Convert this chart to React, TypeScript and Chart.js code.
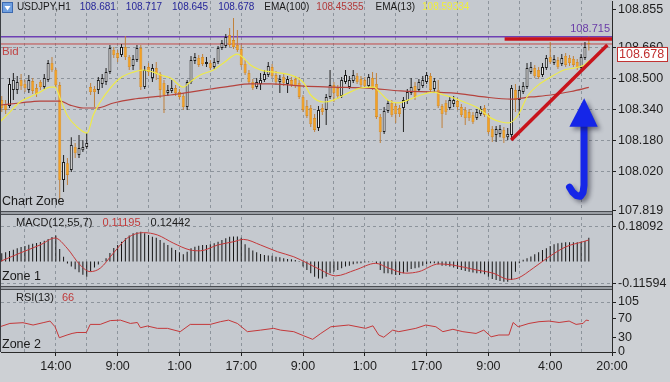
import { useEffect, useRef } from "react";
import { Chart, registerables } from "chart.js";

Chart.register(...registerables);

// ---------------- data (USDJPY H1) ----------------
const opens = [
  108.389, 108.369, 108.358, 108.441, 108.441, 108.492, 108.472, 108.441, 108.487, 108.451,
  108.482, 108.456, 108.492, 108.580, 108.544, 108.466, 107.977, 108.064, 108.028, 108.147,
  108.106, 108.131, 108.147, 108.456, 108.446, 108.441, 108.472, 108.482, 108.533, 108.647,
  108.631, 108.621, 108.662, 108.611, 108.564, 108.595, 108.657, 108.456, 108.559, 108.503,
  108.554, 108.523, 108.477, 108.425, 108.436, 108.451, 108.430, 108.410, 108.353, 108.482,
  108.590, 108.606, 108.611, 108.575, 108.580, 108.559, 108.585, 108.657, 108.668, 108.724,
  108.698, 108.673, 108.652, 108.575, 108.528, 108.482, 108.456, 108.472, 108.492, 108.518,
  108.559, 108.518, 108.482, 108.508, 108.472, 108.492, 108.497, 108.477, 108.405, 108.358,
  108.348, 108.296, 108.245, 108.348, 108.338, 108.405, 108.466, 108.451, 108.410, 108.482,
  108.456, 108.487, 108.513, 108.497, 108.492, 108.461, 108.503, 108.472, 108.302, 108.224,
  108.333, 108.374, 108.358, 108.348, 108.348, 108.384, 108.425, 108.461, 108.441, 108.461,
  108.482, 108.513, 108.446, 108.441, 108.358, 108.374, 108.348, 108.369, 108.384, 108.353,
  108.338, 108.327, 108.312, 108.296, 108.317, 108.348, 108.312, 108.240, 108.209, 108.214,
  108.235, 108.198, 108.209, 108.441, 108.389, 108.430, 108.456, 108.533, 108.554, 108.544,
  108.518, 108.554, 108.611, 108.580, 108.595, 108.575, 108.616, 108.606, 108.601, 108.585,
  108.554, 108.606, 108.681,
];
const highs = [
  108.410, 108.389, 108.503, 108.528, 108.513, 108.523, 108.492, 108.518, 108.503, 108.472,
  108.492, 108.523, 108.595, 108.611, 108.554, 108.482, 108.106, 108.090, 108.198, 108.168,
  108.209, 108.183, 108.219, 108.477, 108.461, 108.508, 108.523, 108.554, 108.673, 108.662,
  108.647, 108.678, 108.719, 108.621, 108.621, 108.673, 108.673, 108.564, 108.580, 108.575,
  108.585, 108.533, 108.492, 108.466, 108.492, 108.466, 108.446, 108.425, 108.492, 108.616,
  108.631, 108.621, 108.626, 108.611, 108.595, 108.606, 108.668, 108.698, 108.729, 108.760,
  108.812, 108.750, 108.673, 108.595, 108.544, 108.497, 108.503, 108.528, 108.544, 108.585,
  108.575, 108.539, 108.518, 108.523, 108.513, 108.508, 108.513, 108.508, 108.415, 108.389,
  108.363, 108.317, 108.358, 108.369, 108.420, 108.544, 108.482, 108.466, 108.508, 108.544,
  108.513, 108.544, 108.528, 108.513, 108.508, 108.523, 108.533, 108.528, 108.317, 108.353,
  108.389, 108.389, 108.374, 108.363, 108.405, 108.446, 108.503, 108.482, 108.497, 108.513,
  108.533, 108.528, 108.503, 108.492, 108.369, 108.389, 108.405, 108.410, 108.399, 108.369,
  108.353, 108.343, 108.327, 108.343, 108.358, 108.363, 108.322, 108.255, 108.255, 108.260,
  108.250, 108.245, 108.466, 108.472, 108.461, 108.482, 108.580, 108.585, 108.570, 108.559,
  108.580, 108.621, 108.688, 108.621, 108.611, 108.626, 108.631, 108.621, 108.616, 108.601,
  108.626, 108.688, 108.717,
];
const lows = [
  108.327, 108.317, 108.348, 108.389, 108.420, 108.441, 108.430, 108.425, 108.420, 108.405,
  108.441, 108.446, 108.482, 108.533, 108.451, 107.874, 107.915, 107.951, 108.018, 108.090,
  108.090, 108.121, 108.137, 108.415, 108.353, 108.420, 108.451, 108.466, 108.523, 108.606,
  108.585, 108.611, 108.595, 108.544, 108.544, 108.585, 108.441, 108.446, 108.513, 108.482,
  108.492, 108.399, 108.322, 108.410, 108.425, 108.410, 108.394, 108.338, 108.338, 108.472,
  108.575, 108.559, 108.564, 108.559, 108.544, 108.549, 108.575, 108.647, 108.657, 108.662,
  108.652, 108.637, 108.559, 108.518, 108.472, 108.441, 108.446, 108.441, 108.482, 108.508,
  108.503, 108.466, 108.425, 108.461, 108.425, 108.456, 108.451, 108.394, 108.327, 108.296,
  108.250, 108.224, 108.229, 108.312, 108.260, 108.394, 108.379, 108.394, 108.399, 108.472,
  108.446, 108.477, 108.472, 108.456, 108.451, 108.451, 108.441, 108.291, 108.168, 108.214,
  108.322, 108.302, 108.271, 108.302, 108.224, 108.369, 108.415, 108.389, 108.430, 108.451,
  108.472, 108.430, 108.430, 108.348, 108.245, 108.312, 108.338, 108.353, 108.338, 108.302,
  108.260, 108.281, 108.265, 108.286, 108.307, 108.302, 108.214, 108.173, 108.173, 108.198,
  108.168, 108.183, 108.188, 108.327, 108.312, 108.420, 108.446, 108.523, 108.503, 108.497,
  108.508, 108.544, 108.575, 108.570, 108.549, 108.564, 108.559, 108.564, 108.559, 108.544,
  108.544, 108.595, 108.645,
];
const closes = [
  108.348, 108.338, 108.472, 108.492, 108.482, 108.461, 108.451, 108.492, 108.436, 108.420,
  108.456, 108.503, 108.580, 108.544, 108.466, 107.977, 108.070, 108.003, 108.157, 108.116,
  108.142, 108.147, 108.168, 108.430, 108.430, 108.492, 108.503, 108.533, 108.657, 108.621,
  108.606, 108.662, 108.611, 108.559, 108.601, 108.657, 108.456, 108.544, 108.533, 108.554,
  108.523, 108.441, 108.415, 108.441, 108.451, 108.425, 108.405, 108.353, 108.482, 108.595,
  108.611, 108.570, 108.575, 108.585, 108.554, 108.585, 108.657, 108.683, 108.714, 108.673,
  108.662, 108.647, 108.570, 108.528, 108.482, 108.451, 108.482, 108.492, 108.523, 108.564,
  108.513, 108.482, 108.497, 108.477, 108.497, 108.466, 108.461, 108.405, 108.338, 108.307,
  108.265, 108.235, 108.338, 108.327, 108.405, 108.466, 108.425, 108.410, 108.492, 108.518,
  108.492, 108.518, 108.482, 108.466, 108.461, 108.508, 108.451, 108.302, 108.224, 108.333,
  108.374, 108.312, 108.317, 108.317, 108.389, 108.430, 108.456, 108.405, 108.482, 108.492,
  108.518, 108.441, 108.487, 108.358, 108.317, 108.327, 108.389, 108.389, 108.353, 108.312,
  108.296, 108.296, 108.276, 108.327, 108.343, 108.312, 108.224, 108.198, 108.240, 108.240,
  108.193, 108.214, 108.451, 108.389, 108.441, 108.461, 108.554, 108.559, 108.513, 108.508,
  108.559, 108.606, 108.585, 108.601, 108.559, 108.606, 108.570, 108.580, 108.570, 108.554,
  108.611, 108.662, 108.678,
];

const ema13Idx = [-0.5, 2.1, 4.7, 7.3, 9.9, 12.5, 13.8, 15.1, 16.9, 19.5, 22.1, 23.7, 25.5, 28.1, 30.7, 34.1, 36.7, 39.2, 41.1, 43.7, 47, 48.8, 51.4, 54.8, 57.4, 61, 62.3, 64.4, 67, 70.4, 74.8, 78.2, 80, 83.3, 85.9, 89.6, 92.9, 96.3, 98.1, 99.9, 102.5, 105.1, 108.5, 111.9, 114.5, 117.1, 119.7, 123.3, 126.7, 129.3, 131.3, 133.7, 136.3, 138.9, 142.2, 145.6, 148.2, 150.8, 152];
const ema13Val = [108.276, 108.327, 108.379, 108.405, 108.430, 108.456, 108.456, 108.399, 108.312, 108.250, 108.219, 108.312, 108.379, 108.451, 108.503, 108.533, 108.544, 108.533, 108.518, 108.503, 108.456, 108.482, 108.518, 108.544, 108.580, 108.626, 108.611, 108.570, 108.544, 108.533, 108.518, 108.477, 108.415, 108.379, 108.389, 108.425, 108.451, 108.456, 108.425, 108.389, 108.374, 108.389, 108.415, 108.430, 108.415, 108.399, 108.379, 108.348, 108.296, 108.276, 108.271, 108.312, 108.415, 108.466, 108.508, 108.544, 108.554, 108.570, 108.593];

const ema100Idx = [-0.5, 4.7, 9.9, 15.1, 17.7, 21.1, 24.7, 28.9, 34.1, 39.2, 43.7, 48.8, 54, 59.2, 64.4, 69.6, 74.8, 78.2, 85.9, 94.8, 103.3, 111.9, 117.1, 124.9, 131.9, 137, 142.2, 147.4, 152];
const ema100Val = [108.363, 108.374, 108.384, 108.384, 108.363, 108.348, 108.348, 108.374, 108.394, 108.405, 108.415, 108.430, 108.446, 108.461, 108.472, 108.472, 108.466, 108.461, 108.456, 108.451, 108.436, 108.430, 108.425, 108.405, 108.394, 108.405, 108.415, 108.433, 108.454];

const macdHist = [
  0.043, 0.048, 0.055, 0.062, 0.069, 0.075, 0.081, 0.087, 0.092, 0.097,
  0.102, 0.108, 0.117, 0.127, 0.135, 0.065, 0.025, -0.010, -0.025, -0.040,
  -0.055, -0.068, -0.078, -0.050, -0.030, -0.015, 0.003, 0.017, 0.045, 0.070,
  0.086, 0.103, 0.121, 0.135, 0.147, 0.152, 0.155, 0.147, 0.138, 0.129,
  0.124, 0.112, 0.098, 0.086, 0.072, 0.060, 0.048, 0.038, 0.051, 0.069,
  0.077, 0.082, 0.086, 0.086, 0.090, 0.095, 0.103, 0.112, 0.121, 0.129,
  0.130, 0.130, 0.124, 0.090, 0.072, 0.058, 0.048, 0.040, 0.034, 0.031,
  0.030, 0.025, 0.022, 0.017, 0.013, 0.012, 0.008, 0.003, -0.026, -0.044,
  -0.061, -0.078, -0.087, -0.087, -0.078, -0.061, -0.052, -0.044, -0.035, -0.026,
  -0.021, -0.014, -0.010, -0.008, -0.005, -0.003, 0.002, -0.009, -0.044, -0.061,
  -0.061, -0.066, -0.069, -0.069, -0.061, -0.052, -0.038, -0.035, -0.030, -0.021,
  -0.014, -0.009, -0.009, -0.014, -0.021, -0.022, -0.026, -0.030, -0.038, -0.044,
  -0.049, -0.052, -0.056, -0.061, -0.061, -0.066, -0.078, -0.090, -0.095, -0.100,
  -0.104, -0.104, -0.095, -0.052, -0.009, 0.009, 0.017, 0.026, 0.038, 0.048,
  0.060, 0.069, 0.081, 0.090, 0.095, 0.098, 0.100, 0.100, 0.100, 0.100,
  0.103, 0.107, 0.124,
];
const signalIdx = [-0.5, 4.7, 9.9, 13.8, 16.9, 20.3, 22.9, 25.5, 28.9, 32.5, 36.7, 40.3, 44.4, 48.8, 51.4, 55.9, 60, 62.6, 67, 71.4, 75.6, 79.2, 82.6, 86.4, 91.6, 96.8, 100.2, 104.6, 108, 113.2, 116.8, 122.8, 127.2, 131.3, 133.7, 137.6, 141.7, 146.1, 150.5, 152];
const signalVal = [0.0, 0.044, 0.086, 0.122, 0.07, -0.018, -0.052, -0.034, 0.044, 0.122, 0.15, 0.138, 0.096, 0.06, 0.056, 0.086, 0.103, 0.115, 0.086, 0.051, 0.025, -0.009, -0.043, -0.074, -0.043, -0.009, -0.034, -0.06, -0.052, -0.012, -0.018, -0.043, -0.06, -0.092, -0.085, -0.034, 0.025, 0.077, 0.103, 0.112];

const rsiIdx = [-0.5, 2.1, 5.5, 8.1, 10.7, 12.5, 13.8, 14.9, 16.9, 18.2, 19.5, 21.9, 22.9, 25.5, 28.1, 30.7, 33.3, 35.1, 35.9, 37.7, 40.3, 42.9, 46.2, 48.8, 54, 56.6, 58.7, 61, 63.6, 67, 70.4, 72.2, 75.6, 78.2, 80.5, 82.6, 85.2, 89.8, 94.2, 96.1, 97.6, 98.9, 101.2, 102.8, 107.2, 109.8, 112.4, 114.2, 116.8, 119.4, 122.8, 124.8, 126.7, 128.7, 131.3, 132.4, 133.7, 136.5, 139.1, 141.7, 144.3, 146.9, 148.7, 150.5, 151.3, 152];
const rsiVal = [53, 60, 61.6, 56.7, 61.6, 65, 53, 30, 35.7, 39, 41, 41, 58, 58, 66, 67, 60, 62, 51, 54.6, 49.7, 49.7, 42.7, 58, 58, 63.7, 67, 60, 42.7, 46, 49.7, 46, 42.7, 34, 26.6, 39, 53, 56.7, 49.7, 55, 35.7, 31, 46, 42.7, 49.7, 56.7, 53, 42.7, 47.7, 42.7, 39, 46, 32, 35.7, 35.7, 62, 53, 60, 63.7, 65, 62, 65, 58, 60, 67, 66];

const timeLabels = ["14:00", "9:00", "1:00", "17:00", "9:00", "1:00", "17:00", "9:00", "4:00", "20:00"];
const firstLabelIdx = 14;
const labelEvery = 16;
const gridEvery = 8;
const xMin = -0.2;
const xMax = 158;

const priceTicks = [108.855, 108.66, 108.5, 108.34, 108.18, 108.02, 107.819];
const priceGridTicks = [108.66, 108.5, 108.34, 108.18, 108.02];
const priceMin = 107.807;
const priceMax = 108.8995;
const macdTicks = [0.18092, -0.11594];
const macdMin = -0.1368;
const macdMax = 0.2518;
const rsiTicks = [105, 70, 30, 0];
const rsiGridTicks = [105];
const rsiMin = 0;
const rsiMax = 134.5;

const symbolName = "USDJPY,H1";
const lastOHLC = [108.681, 108.717, 108.645, 108.678];
const ema100Last = 108.45355;
const ema13Last = 108.59334;
const bidPrice = 108.678;
const levelPrice = 108.715;
const macdParams = "MACD(12,55,7)";
const macdSignalLast = 0.11195;
const macdMainLast = 0.12442;
const rsiName = "RSI(13)";
const rsiLast = 66;

const trendFlatIdx = [130.2, 158.5];
const trendFlatVal = [108.704, 108.704];
const trendRiseIdx = [131.9, 156.8];
const trendRiseVal = [108.183, 108.673];
const arrowHeadIdx = [146.97, 150.8, 154.3];
const arrowHeadVal = [108.252, 108.398, 108.252];
const arrowStemIdx = [150.75, 150.75, 150.5, 149.8, 148.8, 147.8, 147.0];
const arrowStemVal = [108.26, 107.95, 107.912, 107.893, 107.897, 107.915, 107.94];

// ---------------- styles ----------------
const OUTER_BG = "#cdd0d4";
const PANE_BG = "#c5c9cf";
const GRID = "#8d949c";
const AXIS = "#1e1e1e";
const BEAR = "#f2a126";
const BEAR_EDGE = "#d48416";
const BEAR_WICK = "#c0813c";
const BULL = "#f4f4f4";
const BULL_EDGE = "#1a1a1a";
const NARROW = "'Liberation Sans Narrow', 'Liberation Sans', Arial, sans-serif";
const SANS = "'Liberation Sans', Arial, sans-serif";

export default function App() {
  const ref = useRef<HTMLCanvasElement>(null);

  useEffect(() => {
    const canvas = ref.current;
    if (!canvas) return;

    const bullBody: any[] = [];
    const bearBody: any[] = [];
    const bullWick: any[] = [];
    const bearWick: any[] = [];
    for (let i = 0; i < closes.length; i++) {
      const o = opens[i];
      const c = closes[i];
      const body = { x: i, y: [Math.min(o, c), Math.max(o, c)] };
      const wick = { x: i, y: [lows[i], highs[i]] };
      if (c >= o) {
        bullBody.push(body);
        bullWick.push(wick);
      } else {
        bearBody.push(body);
        bearWick.push(wick);
      }
    }
    const pts = (xs: number[], ys: number[]) => xs.map((x, k) => ({ x, y: ys[k] }));
    const gridIdx: number[] = [];
    for (let v = firstLabelIdx - gridEvery; v <= xMax + 1e-9; v += gridEvery) gridIdx.push(v);
    const labelOf = (v: number) => {
      const k = (v - firstLabelIdx) / labelEvery;
      return Number.isInteger(k) && k >= 0 && k < timeLabels.length ? timeLabels[k] : "";
    };

    const lineDs = (data: any[], color: string, width: number, yAxisID: string, order: number, extra: any = {}) => ({
      type: "line",
      data,
      borderColor: color,
      borderWidth: width,
      pointRadius: 0,
      fill: false,
      yAxisID,
      order,
      ...extra,
    });
    const barDs = (data: any[], bg: string, edge: string, bw: number, thick: number, yAxisID: string, order: number, minLen = 0) => ({
      type: "bar",
      data,
      backgroundColor: bg,
      borderColor: edge,
      borderWidth: bw,
      borderSkipped: false,
      barThickness: thick,
      grouped: false,
      inflateAmount: 0,
      minBarLength: minLen,
      yAxisID,
      order,
    });

    const overlay = {
      id: "overlay",
      beforeDraw(chart: any) {
        const { ctx, chartArea: ca } = chart;
        ctx.save();
        ctx.fillStyle = OUTER_BG;
        ctx.fillRect(0, 0, chart.width, chart.height);
        ctx.fillStyle = PANE_BG;
        ctx.fillRect(0, 0, ca.right, ca.bottom);
        ctx.restore();
      },
      afterDatasetsDraw(chart: any) {
        const { ctx, scales } = chart;
        const px = (v: number) => scales.x.getPixelForValue(v);
        const py = (v: number) => scales.y.getPixelForValue(v);
        ctx.save();
        ctx.shadowColor = "rgba(20,20,40,0.45)";
        ctx.shadowBlur = 4;
        ctx.shadowOffsetX = 3;
        ctx.shadowOffsetY = 3;
        ctx.strokeStyle = "#1526e8";
        ctx.fillStyle = "#1526e8";
        ctx.lineWidth = 7;
        ctx.lineCap = "round";
        ctx.lineJoin = "round";
        ctx.beginPath();
        arrowStemIdx.forEach((v, k) => {
          if (k === 0) ctx.moveTo(px(v), py(arrowStemVal[k]));
          else ctx.lineTo(px(v), py(arrowStemVal[k]));
        });
        ctx.stroke();
        ctx.beginPath();
        arrowHeadIdx.forEach((v, k) => {
          if (k === 0) ctx.moveTo(px(v), py(arrowHeadVal[k]));
          else ctx.lineTo(px(v), py(arrowHeadVal[k]));
        });
        ctx.closePath();
        ctx.fill();
        ctx.restore();
      },
      afterDraw(chart: any) {
        const { ctx, chartArea: ca, scales } = chart;
        const yP = scales.y;
        const yM = scales.yMacd;
        const yR = scales.yRsi;
        ctx.save();
        // pane separators
        for (const b of [yP.bottom, yM.bottom]) {
          const t = Math.round(b) - 2;
          ctx.fillStyle = "#9a9ea4";
          ctx.fillRect(0, t, ca.right, 4);
          ctx.fillStyle = "#4a4d52";
          ctx.fillRect(0, t, ca.right, 1);
          ctx.fillRect(0, t + 3, ca.right, 1);
        }
        ctx.fillStyle = "#3c3f44";
        ctx.fillRect(0, 0, 1, ca.bottom);

        const text = (s: string, x: number, y: number, color: string, font: string, align: CanvasTextAlign = "left") => {
          ctx.font = font;
          ctx.fillStyle = color;
          ctx.textAlign = align;
          ctx.textBaseline = "middle";
          ctx.fillText(s, x, y);
          return x + ctx.measureText(s).width;
        };

        // header icon
        const ix = ca.left + 1;
        const iy = ca.top + 1;
        ctx.fillStyle = "#6f9fe0";
        ctx.fillRect(ix, iy, 11, 11);
        ctx.strokeStyle = "#3c69b0";
        ctx.lineWidth = 1;
        ctx.strokeRect(ix + 0.5, iy + 0.5, 10, 10);
        ctx.fillStyle = "#ffffff";
        ctx.beginPath();
        ctx.moveTo(ix + 2.5, iy + 4);
        ctx.lineTo(ix + 8.5, iy + 4);
        ctx.lineTo(ix + 5.5, iy + 8.5);
        ctx.closePath();
        ctx.fill();

        // header
        const hFont = `10px ${SANS}`;
        const hy = ca.top + 6.5;
        let hx = ca.left + 16;
        hx = text(symbolName, hx, hy, "#1a1a1a", hFont) + 9;
        for (const v of lastOHLC) hx = text(v.toFixed(3), hx, hy, "#27279a", hFont) + 10;
        hx = text("EMA(100)", hx, hy, "#1a1a1a", hFont) + 7;
        hx = text(ema100Last.toFixed(5), hx, hy, "#b23a3a", hFont) + 12;
        hx = text("EMA(13)", hx, hy, "#1a1a1a", hFont) + 7;
        text(ema13Last.toFixed(5), hx, hy, "#f0ee3c", hFont);

        // level + bid
        const lvY = yP.getPixelForValue(levelPrice);
        text(levelPrice.toFixed(3), ca.right - 2, lvY - 8, "#6a3ca8", `11px ${SANS}`, "right");
        const bidY = yP.getPixelForValue(bidPrice);
        text("Bid", ca.left + 1, bidY + 8, "#c04545", `11.5px ${SANS}`);

        // bid box on price axis
        const bx = ca.right + 5;
        const by = bidY + 3;
        ctx.fillStyle = "#ffffff";
        ctx.fillRect(bx, by, chart.width - bx - 2, 15);
        ctx.strokeStyle = "#c03030";
        ctx.lineWidth = 1;
        ctx.strokeRect(bx + 0.5, by + 0.5, chart.width - bx - 3, 14);
        text(bidPrice.toFixed(3), bx + 2, by + 8, "#c03030", `12.5px ${NARROW}`);

        // pane labels
        const zFont = `12.5px ${NARROW}`;
        text("Chart Zone", ca.left + 1, yP.bottom - 11, "#1a1a1a", zFont);
        let mx = text(macdParams, ca.left + 15, yM.top + 10, "#1a1a1a", `11px ${SANS}`) + 10;
        mx = text(macdSignalLast.toFixed(5), mx, yM.top + 10, "#c03a3a", `11px ${SANS}`) + 10;
        text(macdMainLast.toFixed(5), mx, yM.top + 10, "#1a1a1a", `11px ${SANS}`);
        text("Zone 1", ca.left + 1, yM.bottom - 11.5, "#1a1a1a", zFont);
        const rx = text(rsiName, ca.left + 15, yR.top + 9.5, "#1a1a1a", `11px ${SANS}`) + 8;
        text(String(rsiLast), rx, yR.top + 9.5, "#c03a3a", `11px ${SANS}`);
        text("Zone 2", ca.left + 1, yR.bottom - 7, "#1a1a1a", zFont);
        ctx.restore();
      },
    };

    const yCommon = (weight: number, min: number, max: number, ticks: number[], gridTicks: number[], digits: number) => ({
      type: "linear",
      position: "right",
      stack: "panes",
      stackWeight: weight,
      min,
      max,
      afterBuildTicks: (s: any) => {
        s.ticks = ticks.map((value) => ({ value }));
      },
      afterFit: (s: any) => {
        s.width = 58;
        s.paddingTop = 0;
        s.paddingBottom = 0;
      },
      ticks: {
        padding: 2,
        color: AXIS,
        font: { family: NARROW, size: 12.5 },
        autoSkip: false,
        callback: (v: number) => Number(v).toFixed(digits),
      },
      grid: {
        color: (c: any) => (c.tick && gridTicks.some((g) => Math.abs(g - c.tick.value) < 1e-9) ? GRID : "rgba(0,0,0,0)"),
        tickColor: AXIS,
        tickLength: 4,
        lineWidth: 1,
      },
      border: { display: true, color: "#2a2a2a", width: 1, dash: [3, 3] },
    });

    const chart = new Chart(canvas, {
      type: "bar",
      data: {
        datasets: [
          lineDs(pts(trendFlatIdx, trendFlatVal), "#c8141c", 3.5, "y", 0) as any,
          lineDs(pts(trendRiseIdx, trendRiseVal), "#c8141c", 3.5, "y", 0) as any,
          lineDs(pts(ema13Idx, ema13Val), "#eeea48", 1.2, "y", 1, { cubicInterpolationMode: "monotone" }) as any,
          lineDs(pts(ema100Idx, ema100Val), "#b5433e", 1.2, "y", 2, { cubicInterpolationMode: "monotone" }) as any,
          barDs(bullBody, BULL, BULL_EDGE, 1, 3, "y", 3, 1) as any,
          barDs(bearBody, BEAR, BEAR_EDGE, 0.6, 3, "y", 3, 1) as any,
          barDs(bullWick, "#202020", "#202020", 0, 1, "y", 4) as any,
          barDs(bearWick, BEAR_WICK, BEAR_WICK, 0, 1, "y", 4) as any,
          lineDs(pts([xMin, xMax], [levelPrice, levelPrice]), "#6e40b4", 1.5, "y", 5) as any,
          lineDs(pts([xMin, xMax], [bidPrice, bidPrice]), "#c24a4a", 1, "y", 5) as any,
          barDs(macdHist.map((v, i) => ({ x: i, y: v })), "#151515", "#151515", 0, 1, "yMacd", 6) as any,
          lineDs(pts(signalIdx, signalVal), "#c4383a", 1, "yMacd", 1, { cubicInterpolationMode: "monotone" }) as any,
          lineDs(pts(rsiIdx, rsiVal), "#c4383a", 1, "yRsi", 1) as any,
        ],
      },
      options: {
        responsive: false,
        animation: false,
        devicePixelRatio: 1,
        events: [],
        layout: { padding: { top: 1, left: 1, right: 0, bottom: 0 } },
        plugins: { legend: { display: false }, tooltip: { enabled: false } },
        scales: {
          x: {
            type: "linear",
            position: "bottom",
            min: xMin,
            max: xMax,
            offset: false,
            afterBuildTicks: (s: any) => {
              s.ticks = gridIdx.map((value) => ({ value }));
            },
            afterFit: (s: any) => {
              s.height = 30;
              s.paddingLeft = 0;
              s.paddingRight = 0;
            },
            ticks: {
              autoSkip: false,
              maxRotation: 0,
              minRotation: 0,
              padding: 3,
              color: AXIS,
              font: { family: NARROW, size: 12.5 },
              callback: (v: number) => labelOf(Number(v)),
            },
            grid: {
              offset: false,
              color: GRID,
              lineWidth: 1,
              tickLength: 4,
              tickColor: (c: any) => (c.tick && labelOf(c.tick.value) ? AXIS : "rgba(0,0,0,0)"),
            },
            border: { display: true, color: "#2a2a2a", width: 1, dash: [3, 3] },
          },
          y: yCommon(212, priceMin, priceMax, priceTicks, priceGridTicks, 3) as any,
          yMacd: yCommon(75, macdMin, macdMax, macdTicks, macdTicks, 5) as any,
          yRsi: yCommon(64, rsiMin, rsiMax, rsiTicks, rsiGridTicks, 0) as any,
        },
      } as any,
      plugins: [overlay as any],
    });
    return () => chart.destroy();
  }, []);

  return (
    <div style={{ position: "fixed", left: 0, top: 0, width: 670, height: 382, overflow: "hidden", background: OUTER_BG }}>
      <canvas ref={ref} width={670} height={382} style={{ display: "block", width: 670, height: 382 }} />
    </div>
  );
}
